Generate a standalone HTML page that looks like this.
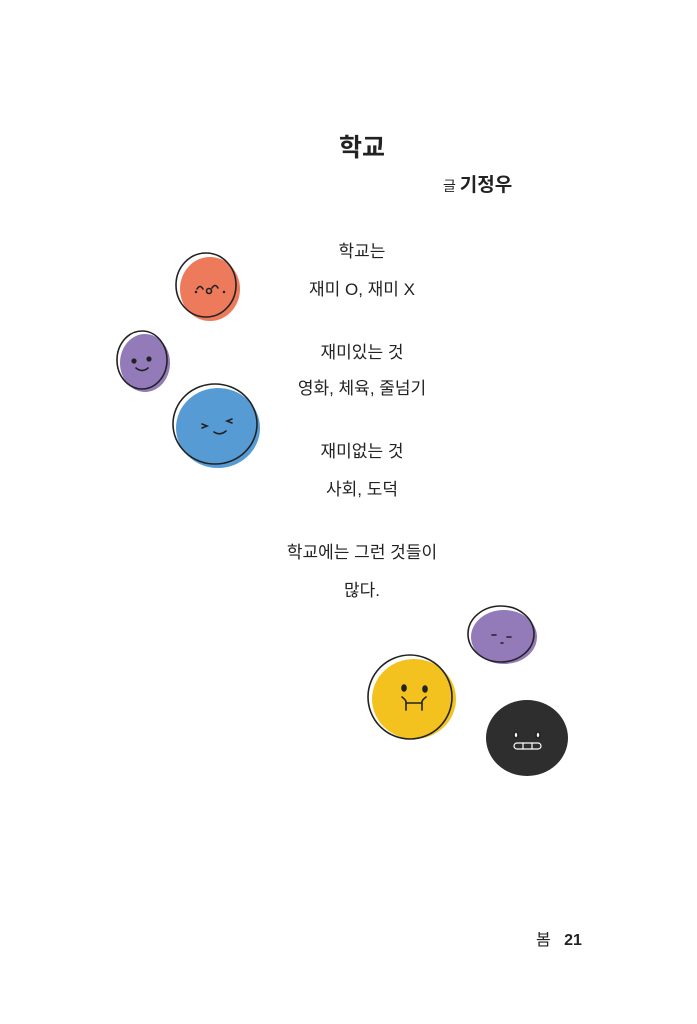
<!DOCTYPE html>
<html><head><meta charset="utf-8"><style>
body{margin:0;width:697px;height:1024px;background:#fff;position:relative;overflow:hidden;font-family:"Liberation Sans","Noto Sans CJK KR",sans-serif;color:#222}
.t{position:absolute;left:262px;width:200px;text-align:center;font-size:17px;line-height:20px}
svg{position:absolute;left:0;top:0}
</style></head><body>
<div style="position:absolute;left:312px;width:100px;text-align:center;top:128px;font-size:25px;font-weight:bold">학교</div>
<div style="position:absolute;left:443px;top:170px;font-size:19px;font-weight:bold"><span style="font-size:14px;font-weight:normal">글 </span>기정우</div>
<div class="t" style="top:242px">학교는</div>
<div class="t" style="top:280px">재미 O, 재미 X</div>
<div class="t" style="top:343px">재미있는 것</div>
<div class="t" style="top:379px">영화, 체육, 줄넘기</div>
<div class="t" style="top:442px">재미없는 것</div>
<div class="t" style="top:480px">사회, 도덕</div>
<div class="t" style="top:543px">학교에는 그런 것들이</div>
<div class="t" style="top:581px">많다.</div>
<div style="position:absolute;left:536px;top:926px;font-size:16px">봄&nbsp;&nbsp; <b>21</b></div>
<svg width="697" height="1024" fill="none" stroke="#222" stroke-width="1.6" stroke-linecap="round">
<ellipse cx="210" cy="289" rx="30" ry="32" fill="#ee7a5c" stroke="none"/>
<ellipse cx="206" cy="285" rx="30" ry="32"/>
<path d="M196 292v0M224 292v0" stroke-width="2.5"/><path d="M197 289q3-5 6 0M212 288q3-5 6 0"/><circle cx="209" cy="291" r="2.5"/>
<ellipse cx="145" cy="363" rx="25" ry="29" fill="#937bb9" stroke="none"/>
<ellipse cx="142" cy="360" rx="25" ry="29"/>
<circle cx="134" cy="361" r="1.8" fill="#222"/><circle cx="149" cy="359" r="1.8" fill="#222"/><path d="M136 368q6 5 12 0"/>
<ellipse cx="218" cy="428" rx="42" ry="40" fill="#579bd5" stroke="none"/>
<ellipse cx="215" cy="424" rx="42" ry="40"/>
<path d="M202 424l5 2-5 2M232 419l-5 2 5 2M214 432q6 4 12 -1"/>
<ellipse cx="504" cy="637" rx="33" ry="27" fill="#937bb9" stroke="none"/>
<ellipse cx="501" cy="634" rx="33" ry="28"/>
<path d="M492 635h4M507 637h4M501 643h2"/>
<ellipse cx="414" cy="699" rx="42" ry="40" fill="#f4c21e" stroke="none"/>
<ellipse cx="410" cy="697" rx="42" ry="42"/>
<ellipse cx="404" cy="688" rx="2" ry="3" fill="#222"/><ellipse cx="425" cy="689" rx="2" ry="3" fill="#222"/><path d="M402 697q4 3 4 5v8M426 697q-4 3-4 5v8M406 703h16"/>
<ellipse cx="527" cy="738" rx="41" ry="38" fill="#2e2e2e" stroke="none"/>
<ellipse cx="516" cy="735" rx="2" ry="3" fill="#fff"/><ellipse cx="538" cy="735" rx="2" ry="3" fill="#fff"/>
<rect x="514" y="743" width="27" height="6" rx="3" stroke="#fff" stroke-width="1.2"/><path d="M523 743v6M532 743v6" stroke="#fff" stroke-width="1.2"/>
</svg>
</body></html>
